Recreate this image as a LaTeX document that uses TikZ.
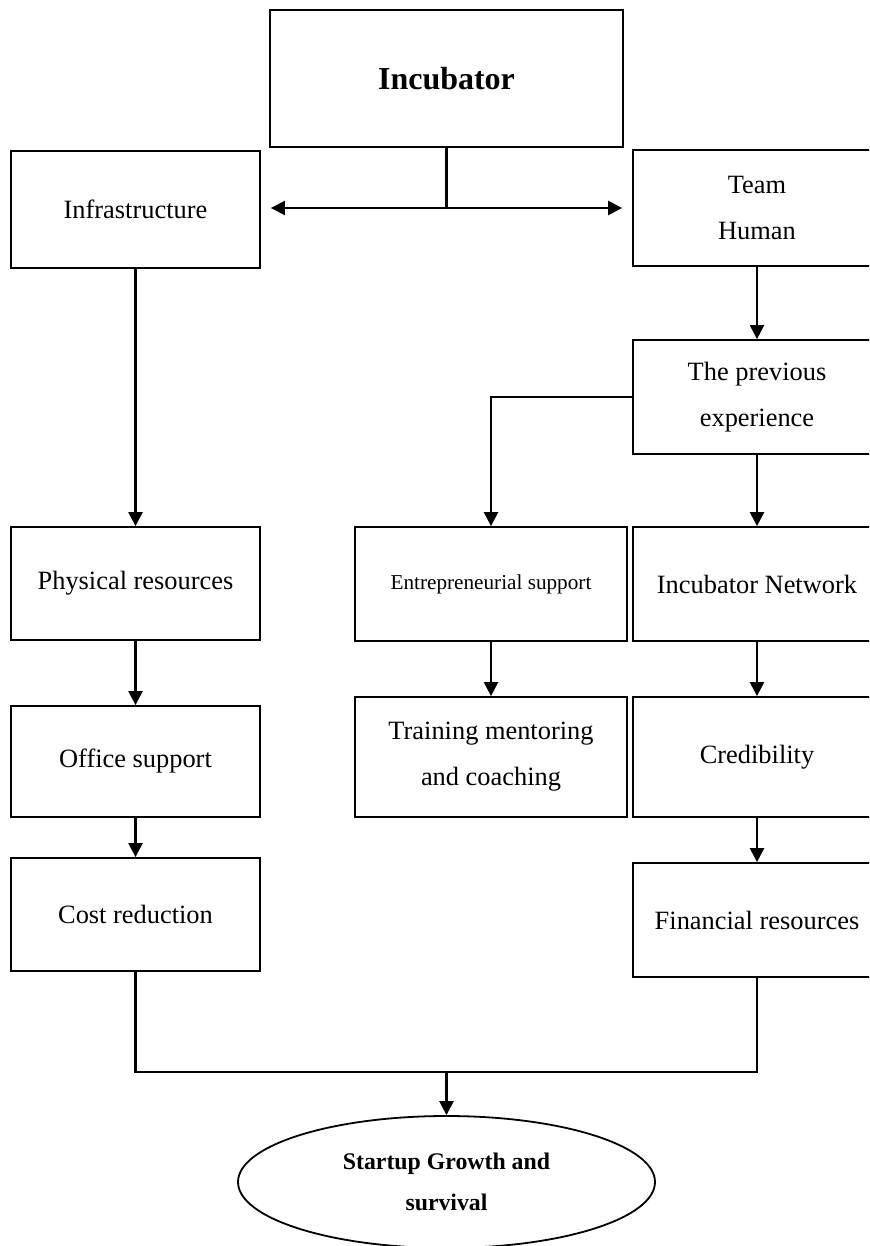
\documentclass[tikz,border=0pt]{standalone}
\usepackage{fontspec}
\setmainfont{Liberation Serif}
\usetikzlibrary{shapes.geometric,arrows.meta,positioning}

\begin{document}
\begin{tikzpicture}[
  x=0.5pt, y=-0.5pt,
  font=\fontsize{13.2}{23}\selectfont,
  box/.style={rectangle, draw, line width=0.9pt, inner sep=0pt,
              minimum width=124.5pt, minimum height=57pt,
              text centered, fill=white},
  midbox/.style={box, minimum width=136pt},
  goal/.style={ellipse, draw, line width=0.9pt, inner sep=0pt,
               minimum width=208.5pt, minimum height=66pt,
               font=\fontsize{11.9}{20.5}\selectfont\bfseries},
  arr/.style={-{Triangle[width=7pt,length=7pt]}, line width=1.2pt},
  link/.style={line width=1.2pt},
  every node/.style={align=center}
]
\useasboundingbox (0,0) rectangle (869,1246);
\clip (0,0) rectangle (869,1246);

% ---- Top ----
\node[box, minimum width=176.5pt, minimum height=68.5pt,
      font=\fontsize{16}{20}\selectfont\bfseries] (inc) at (446.5,78.5) {Incubator};
\node[box, minimum height=58.5pt] (infra) at (135.5,209.5) {Infrastructure};
\node[box, minimum width=124pt, minimum height=58pt] (team) at (757,208) {Team\\Human};
\coordinate (hub) at (446.5,208);

\draw[link] (inc) -- (hub);
\draw[arr, shorten >=5pt] (hub) -- (hub -| infra.east);
\draw[arr, shorten >=5pt] (hub) -- (hub -| team.west);

% ---- Left column ----
\node[box, minimum height=56.5pt] (phys)   at (135.5,583.5) {Physical resources};
\node[box, minimum height=55.5pt] (office) at (135.5,761.5) {Office support};
\node[box, minimum height=56.5pt] (cost)   at (135.5,914.5) {Cost reduction};

\draw[arr] (infra)  -- (phys);
\draw[arr] (phys)   -- (office);
\draw[arr] (office) -- (cost);

% ---- Middle column ----
\node[midbox, font=\fontsize{10.6}{13}\selectfont] (entre) at (491,584) {Entrepreneurial support};
\node[midbox, minimum height=60pt] (train) at (491,757) {Training mentoring\\and coaching};

\draw[arr] (entre) -- (train);

% ---- Right column ----
\node[box, minimum width=124pt] (prev) at (757,397) {The previous\\experience};
\node[box, minimum width=124pt] (net)  at (757,584) {Incubator Network};
\node[box, minimum width=124pt, minimum height=60pt] (cred) at (757,757) {Credibility};
\node[box, minimum width=124pt] (fin)  at (757,920) {Financial resources};

\draw[arr] (team) -- (prev);
\draw[arr] (prev.west) -| (entre.north);
\draw[arr] (prev) -- (net);
\draw[arr] (net)  -- (cred);
\draw[arr] (cred) -- (fin);

% ---- Outcome ----
\node[goal] (growth) at (446.5,1182) {Startup Growth and\\survival};
\coordinate (join) at (446.5,1072);

\draw[link] (cost.south) |- (join) -| (fin.south);
\draw[arr] (join) -- (growth);

\end{tikzpicture}
\end{document}
